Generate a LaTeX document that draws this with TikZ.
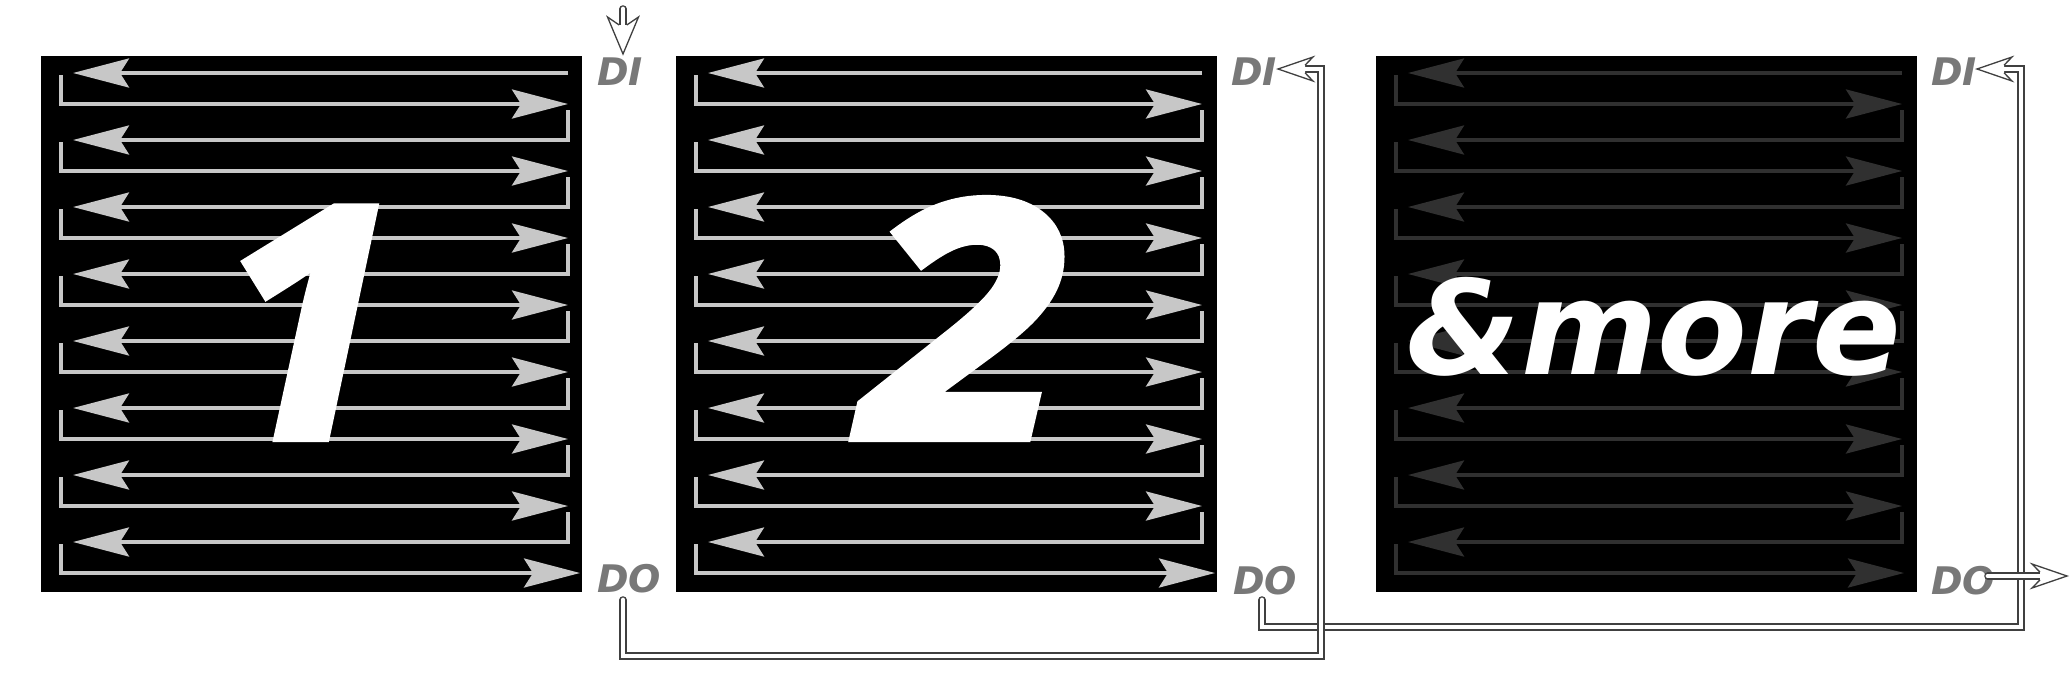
\documentclass[tikz,border=0pt]{standalone}
\usepackage{fontspec}
\newfontfamily\dvfont{DejaVu Sans}
\newfontfamily\osfont[FakeBold=2.5]{Open Sans}
\newfontfamily\oswfont[FakeBold=2.5,FakeStretch=1.12]{Open Sans}
\usetikzlibrary{arrows.meta}
\definecolor{arrlight}{gray}{0.78}
\definecolor{arrdark}{gray}{0.19}
\definecolor{lblgray}{gray}{0.47}
\definecolor{connline}{gray}{0.25}
\tikzset{
  panel/.style={fill=black, draw=none, inner sep=0pt, outer sep=0pt,
    minimum width=541pt, minimum height=536pt, anchor=north west},
  pa/.style={line width=3.8pt, line join=miter,
    -{Stealth[length=56pt,width=29pt,inset=9pt]}},
  conn/.style={draw=connline, line width=1.4pt, double=white,
    double distance=4.8pt, line join=miter, line cap=round},
  headline/.style={draw=connline, line width=1.3pt, line join=miter},
  lbl/.style={text=lblgray, font=\dvfont\bfseries\itshape\fontsize{38}{38}\selectfont,
    inner sep=0pt, anchor=base west},
  bignum/.style={text=white, font=\osfont\bfseries\itshape\fontsize{323}{323}\selectfont,
    inner sep=0pt, anchor=base},
  bignumw/.style={text=white, font=\oswfont\bfseries\itshape\fontsize{330}{330}\selectfont,
    inner sep=0pt, anchor=base},
  moretxt/.style={text=white, font=\dvfont\bfseries\itshape\fontsize{131}{131}\selectfont,
    inner sep=0pt, anchor=base}
}
\newcommand\serp[4]{%
  \foreach \k in {0,...,7}{
    \pgfmathsetmacro\yl{73+67*\k}
    \pgfmathsetmacro\yr{104+67*\k}
    \pgfmathsetmacro\yp{\yl-30}
    \ifnum\k=0
      \draw[pa,#3] (#2-14,\yl) -- (#1+32,\yl);
    \else
      \draw[pa,#3] (#2-14,\yp) |- (#1+32,\yl);
    \fi
    \ifnum\k=7
      \draw[pa,#3] (#1+20,\yl+2) |- (#2-#4,\yr);
    \else
      \draw[pa,#3] (#1+20,\yl+2) |- (#2-14,\yr);
    \fi
  }%
}
% open arrow head: #1 tip, #2 angle, #3 length, #4 half width
\newcommand\ohead[4]{%
  \begin{scope}[shift={(#1)},rotate=#2]
    \fill[white] (0,0) -- (-#3,-#4) -- (-#3+8,-3.8) -- (-#3+8,3.8) -- (-#3,#4) -- cycle;
    \draw[headline] (-#3+8,-3.8) -- (-#3,-#4) -- (0,0) -- (-#3,#4) -- (-#3+8,3.8);
  \end{scope}%
}
\begin{document}
\begin{tikzpicture}[x=1pt,y=-1pt]
\useasboundingbox (0,0) rectangle (2071,691);
\fill[white] (0,0) rectangle (2071,691);

% panels
\node[panel] (p1) at (41,56) {};
\node[panel] (p2) at (676,56) {};
\node[panel] (p3) at (1376,56) {};

\serp{41}{582}{arrlight}{2}
\serp{676}{1216}{arrlight}{1}
\serp{1376}{1916}{arrdark}{12}

% big labels
\node[bignum] (n1) at (306,438) {1};
\node[bignumw] (n2) at (964,438) {2};
\node[moretxt] (n3) at (1654,374) {\&more};

% DI / DO labels
\node[lbl] (di1) at (597,85) {DI};
\node[lbl] (di2) at (1231,85) {DI};
\node[lbl] (di3) at (1931,85) {DI};
\node[lbl] (do1) at (597,592) {DO};
\node[lbl] (do2) at (1233,594) {DO};
\node[lbl] (do3) at (1931,594) {DO};

% connector points
\coordinate (i0) at (623,9);
\coordinate (t1) at (623,54);
\coordinate (o1) at (623,600);
\coordinate (b1) at (1321,656);
\coordinate (t2) at (1278,69);
\coordinate (o2) at (1262,600);
\coordinate (b2) at (2021,627);
\coordinate (t3) at (1977,69);
\coordinate (o3) at (1988,576);
\coordinate (t4) at (2067,576);

% input arrow
\draw[conn] (i0) -- ([yshift=26pt]t1);
\ohead{t1}{-90}{37}{15.5}

% connector 2 (panel 2 -> panel 3)
\draw[conn] (o2) |- (b2) |- ([xshift=24pt]t3);
\ohead{t3}{180}{35}{12}

% connector 1 (panel 1 -> panel 2)
\draw[conn] (o1) |- (b1) |- ([xshift=24pt]t2);
\ohead{t2}{180}{35}{12}

% output arrow
\draw[conn] (o3) -- ([xshift=-24pt]t4);
\ohead{t4}{0}{35}{12}
\end{tikzpicture}
\end{document}
